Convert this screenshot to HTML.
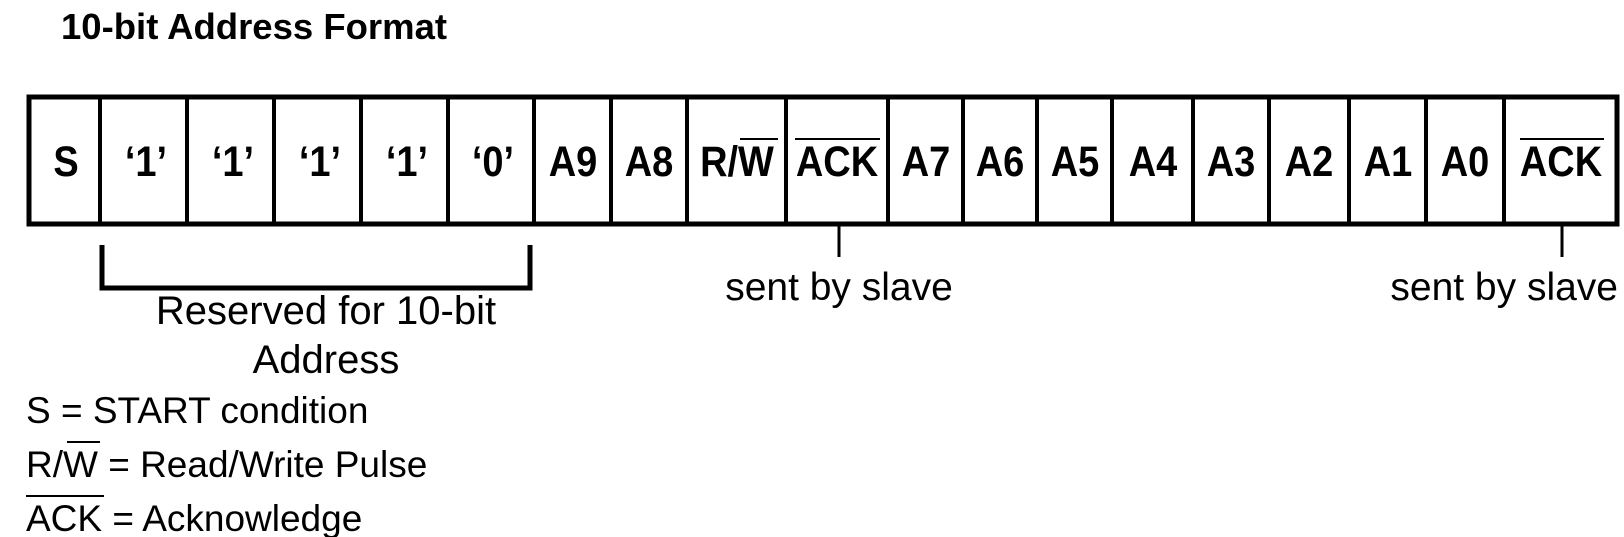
<!DOCTYPE html>
<html><head><meta charset="utf-8"><style>
html,body{margin:0;padding:0;background:#fff;}
svg{display:block;}
text{font-family:"Liberation Sans",Arial,sans-serif;fill:#000;}
</style></head><body>
<svg width="1624" height="537" viewBox="0 0 1624 537" xmlns="http://www.w3.org/2000/svg">
<text x="61" y="39" font-size="36.5" font-weight="bold">10-bit Address Format</text>
<rect x="29" y="97" width="1588" height="127" fill="#fff" stroke="#000" stroke-width="5"/>
<g stroke="#000" stroke-width="4">
<line x1="100" y1="97" x2="100" y2="224"/>
<line x1="187" y1="97" x2="187" y2="224"/>
<line x1="274" y1="97" x2="274" y2="224"/>
<line x1="361" y1="97" x2="361" y2="224"/>
<line x1="448" y1="97" x2="448" y2="224"/>
<line x1="534" y1="97" x2="534" y2="224"/>
<line x1="611" y1="97" x2="611" y2="224"/>
<line x1="687" y1="97" x2="687" y2="224"/>
<line x1="786" y1="97" x2="786" y2="224"/>
<line x1="888" y1="97" x2="888" y2="224"/>
<line x1="963" y1="97" x2="963" y2="224"/>
<line x1="1037" y1="97" x2="1037" y2="224"/>
<line x1="1112" y1="97" x2="1112" y2="224"/>
<line x1="1193" y1="97" x2="1193" y2="224"/>
<line x1="1269" y1="97" x2="1269" y2="224"/>
<line x1="1349" y1="97" x2="1349" y2="224"/>
<line x1="1426" y1="97" x2="1426" y2="224"/>
<line x1="1504" y1="97" x2="1504" y2="224"/>
</g>
<g font-size="38" font-weight="bold" text-anchor="middle" transform="translate(0,176) scale(1,1.12) translate(0,-176)">
<text x="66" y="176">S</text>
<text x="146" y="176">‘1’</text>
<text x="233" y="176">‘1’</text>
<text x="320" y="176">‘1’</text>
<text x="407" y="176">‘1’</text>
<text x="493" y="176">‘0’</text>
<text x="573" y="176">A9</text>
<text x="649" y="176">A8</text>
<text x="737" y="176">R/W</text>
<text x="837" y="176">ACK</text>
<text x="926" y="176">A7</text>
<text x="1000" y="176">A6</text>
<text x="1075" y="176">A5</text>
<text x="1153" y="176">A4</text>
<text x="1231" y="176">A3</text>
<text x="1309" y="176">A2</text>
<text x="1388" y="176">A1</text>
<text x="1465" y="176">A0</text>
<text x="1561" y="176">ACK</text>
</g>
<g stroke="#000" stroke-width="2">
<line x1="740" y1="139" x2="778" y2="139"/>
<line x1="795" y1="139" x2="880" y2="139"/>
<line x1="1520" y1="139" x2="1604" y2="139"/>
</g>
<path d="M102 245 V288 H530 V245" fill="none" stroke="#000" stroke-width="5"/>
<line x1="839" y1="226" x2="839" y2="257" stroke="#000" stroke-width="3"/>
<line x1="1562" y1="226" x2="1562" y2="257" stroke="#000" stroke-width="3"/>
<g font-size="39">
<text x="839" y="300" text-anchor="middle">sent by slave</text>
<text x="1618" y="300" text-anchor="end">sent by slave</text>
</g>
<g font-size="40">
<text x="326" y="324" text-anchor="middle">Reserved for 10-bit</text>
<text x="326" y="373" text-anchor="middle">Address</text>
</g>
<g font-size="37">
<text x="26" y="423">S = START condition</text>
<text x="26" y="477">R/W = Read/Write Pulse</text>
<text x="26" y="531">ACK = Acknowledge</text>
</g>
<g stroke="#000" stroke-width="2">
<line x1="67" y1="442" x2="100" y2="442"/>
<line x1="26" y1="496" x2="104" y2="496"/>
</g>
</svg>
</body></html>
